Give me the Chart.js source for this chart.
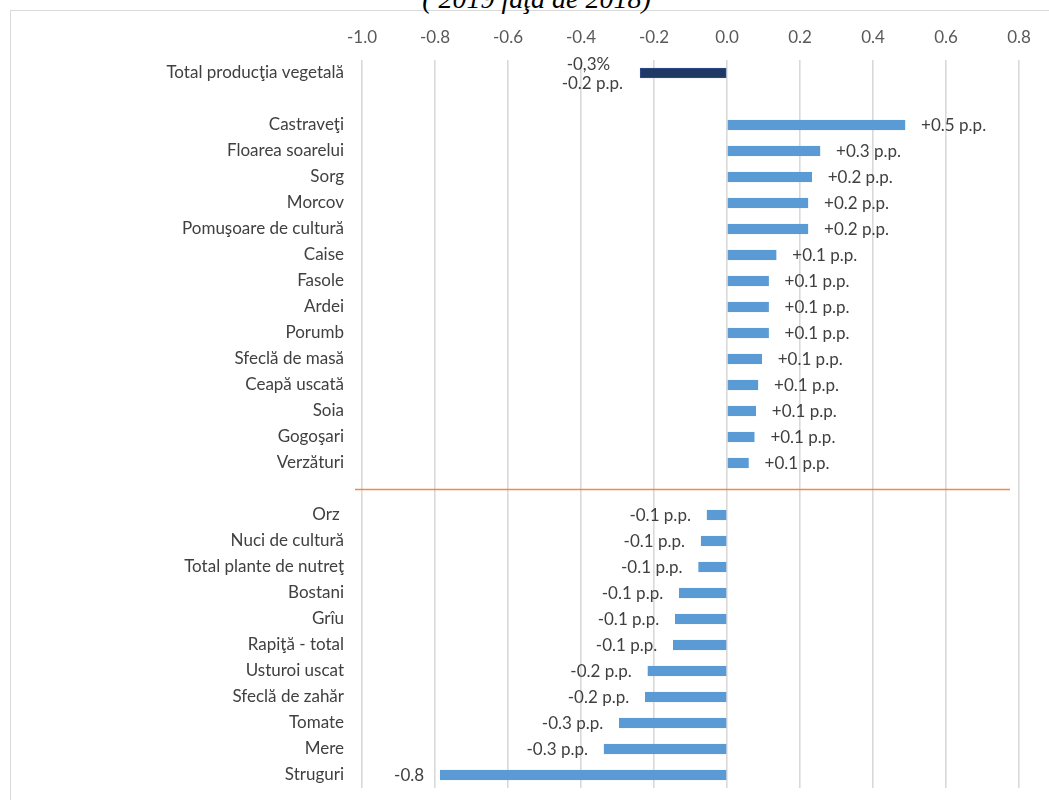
<!DOCTYPE html>
<html>
<head>
<meta charset="utf-8">
<script src="https://cdn.jsdelivr.net/npm/chart.js@4/dist/chart.umd.min.js"></script>
<style>
  html, body { margin: 0; padding: 0; background: #fff; }
  #wrap { position: relative; width: 1049px; height: 800px; overflow: hidden; }
  #frame { position: absolute; left: 10px; top: 10px; width: 2000px; height: 2000px; border: 1px solid #d9d9d9; }
  #title { position: absolute; left: 0; width: 1073px; top: -15px; height: 28px; line-height: 28px; text-align: center;
           font-family: "Liberation Serif", "DejaVu Serif", serif; font-style: italic; font-size: 28px; color: #000; white-space: nowrap; }
  canvas { position: absolute; left: 0; top: 0; }
</style>
</head>
<body>
<div id="wrap">
  <div id="frame"></div>
  <div id="title">( 2019 faţa de 2018)</div>
  <canvas id="c" width="1049" height="800"></canvas>
</div>
<script>
const categories = ['Total producţia vegetală', '', 'Castraveţi', 'Floarea soarelui', 'Sorg', 'Morcov',
  'Pomuşoare de cultură', 'Caise', 'Fasole', 'Ardei', 'Porumb', 'Sfeclă de masă', 'Ceapă uscată', 'Soia',
  'Gogoşari', 'Verzături', '', 'Orz ', 'Nuci de cultură', 'Total plante de nutreţ', 'Bostani', 'Grîu',
  'Rapiţă - total', 'Usturoi uscat', 'Sfeclă de zahăr', 'Tomate', 'Mere', 'Struguri'];

const values = [-0.238, null, 0.488, 0.255, 0.232, 0.222, 0.222, 0.135, 0.114, 0.114, 0.114, 0.095,
  0.085, 0.079, 0.075, 0.059, null, -0.055, -0.071, -0.078, -0.131, -0.142, -0.147, -0.217, -0.224,
  -0.295, -0.337, -0.786];

const valueLabels = ['-0.2 p.p.', '', '+0.5 p.p.', '+0.3 p.p.', '+0.2 p.p.', '+0.2 p.p.', '+0.2 p.p.',
  '+0.1 p.p.', '+0.1 p.p.', '+0.1 p.p.', '+0.1 p.p.', '+0.1 p.p.', '+0.1 p.p.', '+0.1 p.p.', '+0.1 p.p.',
  '+0.1 p.p.', '', '-0.1 p.p.', '-0.1 p.p.', '-0.1 p.p.', '-0.1 p.p.', '-0.1 p.p.', '-0.1 p.p.',
  '-0.2 p.p.', '-0.2 p.p.', '-0.3 p.p.', '-0.3 p.p.', '-0.8'];

const totalPercentLabel = '-0,3%';
const separatorIndex = 16;

const xMin = -1.0, xMax = 0.8, xStep = 0.2;

const FONT = 'Lato, "Open Sans", sans-serif';
const FSIZE = 17;
const TXT = '#404040';

const barColors = values.map((v, i) => i === 0 ? '#1F3864' : '#5B9BD5');
const barBorders = values.map((v, i) => i === 0 ? '#2F4F8F' : '#5B9BD5');

const labelPlugin = {
  id: 'valueLabels',
  afterDatasetsDraw(chart) {
    const ctx = chart.ctx;
    const meta = chart.getDatasetMeta(0);
    const xs = chart.scales.x;
    const ys = chart.scales.y;
    ctx.save();
    const ySep = Math.round(ys.getPixelForValue(separatorIndex)) + 0.5;
    ctx.strokeStyle = '#F08A4B';
    ctx.lineWidth = 1.5;
    ctx.beginPath();
    ctx.moveTo(xs.getPixelForValue(xMin) - 7, ySep);
    ctx.lineTo(xs.getPixelForValue(xMax) - 9, ySep);
    ctx.stroke();

    ctx.font = FSIZE + 'px ' + FONT;
    ctx.fillStyle = TXT;
    ctx.textBaseline = 'middle';
    meta.data.forEach((bar, i) => {
      const v = values[i];
      if (v === null || !valueLabels[i]) return;
      const y = bar.y;
      if (i === 0) {
        const w2 = ctx.measureText(valueLabels[i]).width;
        const cx = bar.x - 17 - w2 / 2;
        ctx.textAlign = 'center';
        ctx.fillText(totalPercentLabel, cx - 4, y - 8);
        ctx.fillText(valueLabels[i], cx, y + 11);
      } else if (v >= 0) {
        ctx.textAlign = 'left';
        ctx.fillText(valueLabels[i], bar.x + 16, y + 1);
      } else {
        ctx.textAlign = 'right';
        ctx.fillText(valueLabels[i], bar.x - 16, y + 1);
      }
    });
    ctx.restore();
  }
};

new Chart(document.getElementById('c'), {
  type: 'bar',
  data: {
    labels: categories,
    datasets: [{
      data: values,
      backgroundColor: barColors,
      borderColor: barBorders,
      borderWidth: 1,
      borderSkipped: false,
      barThickness: 10
    }]
  },
  options: {
    indexAxis: 'y',
    responsive: false,
    animation: false,
    devicePixelRatio: 1,
    layout: { padding: { left: 0, right: 30, top: 20, bottom: 12 } },
    plugins: { legend: { display: false }, tooltip: { enabled: false }, title: { display: false } },
    scales: {
      x: {
        position: 'top',
        min: xMin, max: xMax,
        afterFit(s) { s.height = 40; },
        border: { display: false },
        grid: { color: '#d9d9d9', lineWidth: 1.6, drawTicks: false },
        ticks: {
          stepSize: xStep,
          padding: 12,
          color: '#595959',
          font: { family: FONT, size: FSIZE },
          callback(v) { return Math.abs(v) < 1e-9 ? '0.0' : Number(v).toFixed(1); }
        }
      },
      y: {
        afterFit(s) { s.width = 362; s.paddingTop = 0; s.paddingBottom = 0; },
        border: { display: false },
        grid: { display: false, drawTicks: false },
        ticks: {
          autoSkip: false,
          padding: 18,
          color: TXT,
          font: { family: FONT, size: FSIZE }
        }
      }
    }
  },
  plugins: [labelPlugin]
});
</script>
</body>
</html>
